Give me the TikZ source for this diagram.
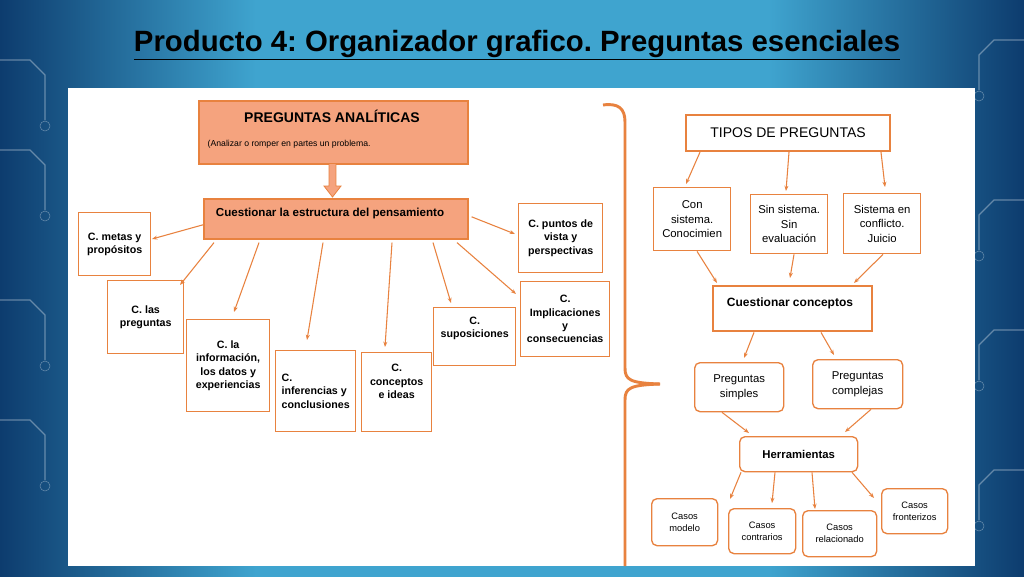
\documentclass[tikz,border=0pt]{standalone}
\usepackage{fontspec}
\setmainfont{Liberation Sans}
\frenchspacing
\usetikzlibrary{calc,arrows.meta}
\definecolor{orng}{HTML}{E8823F}
\definecolor{salmon}{HTML}{F5A37E}
\definecolor{bgdark}{HTML}{0D3C6E}
\definecolor{bglight}{HTML}{3FA4CF}
\tikzset{
 box/.style={draw=orng,line width=1pt,fill=white,align=center,font=\bfseries\fontsize{8}{10}\selectfont,inner sep=2pt},
 fbox/.style={draw=orng,line width=1.2pt,fill=salmon},
 rbox/.style={box,rounded corners=4pt},
 arr/.style={draw=orng,line width=0.8pt,-{Stealth[length=4pt,width=3pt]}},
}
\begin{document}
\begin{tikzpicture}[x=0.75pt,y=-0.75pt]
\useasboundingbox (0,0) rectangle (1024,576);
\shade[left color=bgdark,right color=bglight,middle color=bglight] (0,0) rectangle (512,576);
\shade[left color=bglight,right color=bgdark,middle color=bglight] (512,0) rectangle (1024,576);
\foreach \y in {60,150,300,420} {\draw[white,opacity=0.35,line width=1pt] (0,\y) -- (30,\y) -- (45,\y+15) -- (45,\y+60); \draw[white,opacity=0.35] (45,\y+66) circle (5);}
\foreach \y in {40,200,330,470} {\draw[white,opacity=0.35,line width=1pt] (1024,\y) -- (994,\y) -- (979,\y+15) -- (979,\y+50); \draw[white,opacity=0.35] (979,\y+56) circle (5);}
\node[font=\bfseries\fontsize{22}{26}\selectfont] (title) at (517,45) {\underline{Producto 4: Organizador grafico. Preguntas esenciales}};
\fill[white] (68,88) rectangle (975,566);
% left
\node[fbox,minimum width=269*0.75pt,minimum height=63*0.75pt,anchor=north west] (pa) at (198,100) {};
\node[font=\bfseries\fontsize{10.5}{13}\selectfont] at (332,116) {PREGUNTAS ANALÍTICAS};
\node[font=\fontsize{6.5}{9}\selectfont,anchor=west] at (203,144) {(Analizar o romper en partes un problema.};
\node[fbox,minimum width=264*0.75pt,minimum height=40*0.75pt,anchor=north west] (ce) at (203,198) {};
\node[font=\bfseries\fontsize{8.7}{11}\selectfont] at (330,213) {Cuestionar la estructura del pensamiento};
\fill[salmon] (329,164) rectangle (336,186);
\fill[salmon] (324,186) -- (341,186) -- (332.5,197) -- cycle;
\draw[orng,line width=0.6pt] (329,164) -- (329,186) -- (324,186) -- (332.5,197) -- (341,186) -- (336,186) -- (336,164);
\node[box,minimum width=72*0.75pt,minimum height=63*0.75pt,anchor=north west] (metas) at (78,212) {C. metas y\\propósitos};
\node[box,minimum width=76*0.75pt,minimum height=73*0.75pt,anchor=north west] (las) at (107,280) {C. las\\preguntas};
\node[box,minimum width=83*0.75pt,minimum height=92*0.75pt,anchor=north west] (info) at (186,319) {C. la\\información,\\los datos y\\experiencias};
\node[box,minimum width=80*0.75pt,minimum height=81*0.75pt,anchor=north west,align=left] (inf) at (275,350) {C.\\inferencias y\\conclusiones};
\node[box,minimum width=70*0.75pt,minimum height=79*0.75pt,anchor=north west] (conc) at (361,352) {C.\\conceptos\\e ideas\\[6pt]};
\node[box,minimum width=82*0.75pt,minimum height=58*0.75pt,anchor=north west] (sup) at (433,307) {C.\\suposiciones\\[4pt]};
\node[box,minimum width=84*0.75pt,minimum height=69*0.75pt,anchor=north west] (pun) at (518,203) {C. puntos de\\vista y\\perspectivas};
\node[box,minimum width=89*0.75pt,minimum height=75*0.75pt,anchor=north west] (imp) at (520,281) {C.\\Implicaciones\\y\\consecuencias};
\draw[arr] ($(ce.west)+(0,6)$) -- (152,239);
\draw[arr] ($(ce.south west)+(11,3)$) -- (180,285);
\draw[arr] ($(ce.south west)+(56,3)$) -- (234,312);
\draw[arr] ($(ce.south west)+(120,3)$) -- (307,340);
\draw[arr] ($(ce.south west)+(189,3)$) -- (385,347);
\draw[arr] ($(ce.south west)+(230,3)$) -- (451,303);
\draw[arr] ($(ce.south west)+(254,3)$) -- (516,294);
\draw[arr] ($(ce.east)+(3,-2)$) -- (515,234);
% brace
\draw[orng,line width=2.2pt] (603,105) .. controls (618,103) and (625,108) .. (625,122) -- (625,368) .. controls (625,380) and (630,383) .. (660,384);
\draw[orng,line width=2.2pt] (660,384) .. controls (630,385) and (625,388) .. (625,400) -- (625,566);
% right
\node[box,line width=1.6pt,minimum width=204*0.75pt,minimum height=36*0.75pt,anchor=north west,font=\fontsize{10.5}{12}\selectfont] (tipos) at (685,114) {TIPOS DE PREGUNTAS};
\node[box,font=\fontsize{8.5}{11}\selectfont,minimum width=77*0.75pt,minimum height=63*0.75pt,anchor=north west] (con) at (653,187) {Con\\sistema.\\Conocimien};
\node[box,font=\fontsize{8.5}{11}\selectfont,minimum width=77*0.75pt,minimum height=59*0.75pt,anchor=north west] (sin) at (750,194) {Sin sistema.\\Sin\\evaluación};
\node[box,font=\fontsize{8.5}{11}\selectfont,minimum width=77*0.75pt,minimum height=60*0.75pt,anchor=north west] (sis) at (843,193) {Sistema en\\conflicto.\\Juicio};
\node[box,line width=1.8pt,minimum width=159*0.75pt,minimum height=45*0.75pt,anchor=north west] (cc) at (712,285) {};
\node[font=\bfseries\fontsize{9}{11}\selectfont] at (790,303) {Cuestionar conceptos};
\node[rbox,font=\fontsize{8.5}{11}\selectfont,minimum width=89*0.75pt,minimum height=49*0.75pt,anchor=north west] (ps) at (694,362) {Preguntas\\simples};
\node[rbox,font=\fontsize{8.5}{11}\selectfont,minimum width=90*0.75pt,minimum height=49*0.75pt,anchor=north west] (pc) at (812,359) {Preguntas\\complejas};
\node[rbox,font=\bfseries\fontsize{8.5}{11}\selectfont,minimum width=118*0.75pt,minimum height=35*0.75pt,anchor=north west] (her) at (739,436) {Herramientas};
\node[rbox,font=\fontsize{7}{9}\selectfont,minimum width=66*0.75pt,minimum height=47*0.75pt,anchor=north west] (cm) at (651,498) {Casos\\modelo};
\node[rbox,font=\fontsize{7}{9}\selectfont,minimum width=67*0.75pt,minimum height=45*0.75pt,anchor=north west] (cco) at (728,508) {Casos\\contrarios};
\node[rbox,font=\fontsize{7}{9}\selectfont,minimum width=74*0.75pt,minimum height=46*0.75pt,anchor=north west] (cr) at (802,510) {Casos\\relacionado};
\node[rbox,font=\fontsize{7}{9}\selectfont,minimum width=66*0.75pt,minimum height=45*0.75pt,anchor=north west] (cf) at (881,488) {Casos\\fronterizos};
\draw[arr] ($(tipos.south west)+(15,0)$) -- (686,184);
\draw[arr] ($(tipos.south west)+(104,0)$) -- (786,191);
\draw[arr] ($(tipos.south west)+(196,0)$) -- (885,187);
\draw[arr] ($(con.south west)+(44,0)$) -- (717,283);
\draw[arr] ($(sin.south west)+(44,0)$) -- (790,278);
\draw[arr] ($(sis.south west)+(40,0)$) -- (854,283);
\draw[arr] ($(cc.south west)+(42,0)$) -- (744,358);
\draw[arr] ($(cc.south west)+(109,0)$) -- (834,355);
\draw[arr] ($(ps.south west)+(28,0)$) -- (749,433);
\draw[arr] ($(pc.south west)+(59,0)$) -- (845,432);
\draw[arr] ($(her.south west)+(2,0)$) -- (730,499);
\draw[arr] ($(her.south west)+(36,0)$) -- (772,503);
\draw[arr] ($(her.south west)+(73,0)$) -- (815,509);
\draw[arr] ($(her.south west)+(113,0)$) -- (874,498);
\end{tikzpicture}
\end{document}
